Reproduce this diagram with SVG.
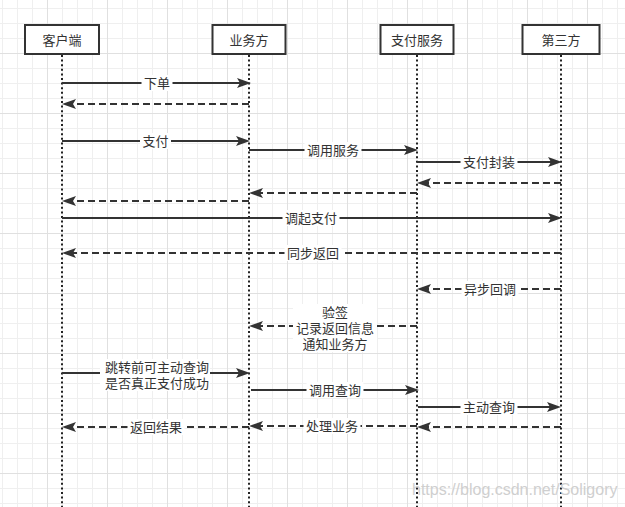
<svg xmlns="http://www.w3.org/2000/svg" width="625" height="507" viewBox="0 0 625 507">
<style>
text{font-family:"Liberation Sans","Noto Sans CJK SC",sans-serif;font-size:13px;fill:#333}
.node rect{fill:#fff;stroke:#333;stroke-width:2}
.node text{text-anchor:middle;dominant-baseline:central}
.life{stroke:#222;stroke-width:2;stroke-dasharray:2 2.6;fill:none}
.msg{stroke:#333;stroke-width:2;fill:none;marker-end:url(#ah)}
.ret{stroke-dasharray:7 4}
.lbg{fill:#fff}
.lbl{text-anchor:middle;dominant-baseline:central}
.wm{font-family:"Liberation Sans",sans-serif;font-size:16px;fill:#cfcfcf}
</style>
<defs>
<pattern id="gm" x="2" y="8" width="15" height="15" patternUnits="userSpaceOnUse"><path d="M0.5 0V15M0 0.5H15" stroke="#efefef" stroke-width="1" fill="none"/></pattern>
<pattern id="gM" x="47" y="53" width="60" height="60" patternUnits="userSpaceOnUse"><path d="M0.5 0V60M0 0.5H60" stroke="#e0e0e0" stroke-width="1" fill="none"/></pattern>
<marker id="ah" viewBox="0 0 14 10" markerWidth="14" markerHeight="10" refX="3" refY="5" orient="auto" markerUnits="userSpaceOnUse"><path d="M0,0 L14,5 L0,10 L3,5z" fill="#333"/></marker>
</defs>
<rect width="625" height="507" fill="#fff"/>
<rect width="625" height="507" fill="url(#gm)"/>
<rect width="625" height="507" fill="url(#gM)"/>

<g id="lifelines">
<path class="life" d="M62 55V507"/>
<path class="life" d="M249 55V507"/>
<path class="life" d="M417 55V507"/>
<path class="life" d="M561 55V507"/>
</g>

<g id="node-client" class="node"><rect x="25" y="25" width="74" height="29"/><text x="62" y="40">客户端</text></g>
<g id="node-business" class="node"><rect x="212.5" y="25" width="73" height="29"/><text x="249" y="40">业务方</text></g>
<g id="node-payservice" class="node"><rect x="380.5" y="25" width="73" height="29"/><text x="417" y="40">支付服务</text></g>
<g id="node-thirdparty" class="node"><rect x="522.5" y="25" width="77" height="29"/><text x="561" y="40">第三方</text></g>

<g id="connectors">
<path class="msg" d="M62 83H240"/>
<path class="msg ret" d="M249 104H73"/>
<path class="msg" d="M62 141H239"/>
<path class="msg" d="M249 150H407"/>
<path class="msg" d="M417 162H551"/>
<path class="msg ret" d="M561 183H428"/>
<path class="msg ret" d="M417 193H260"/>
<path class="msg ret" d="M249 201H73"/>
<path class="msg" d="M62 218H551"/>
<path class="msg ret" d="M561 253H73"/>
<path class="msg ret" d="M561 289H428"/>
<path class="msg ret" d="M417 326H260"/>
<path class="msg" d="M62 373H239"/>
<path class="msg" d="M251 390H408"/>
<path class="msg" d="M418 407H550"/>
<path class="msg ret" d="M561 427H428"/>
<path class="msg ret" d="M417 426H260"/>
<path class="msg ret" d="M249 427H73"/>
</g>

<g id="labels">
<rect class="lbg" x="141.5" y="75" width="31" height="16"/><text class="lbl" x="157" y="83">下单</text>
<rect class="lbg" x="140" y="133" width="31" height="16"/><text class="lbl" x="155.5" y="141">支付</text>
<rect class="lbg" x="304.5" y="142" width="57" height="16"/><text class="lbl" x="333" y="150">调用服务</text>
<rect class="lbg" x="460.5" y="154" width="57" height="16"/><text class="lbl" x="489" y="162">支付封装</text>
<rect class="lbg" x="282.5" y="210" width="57" height="16"/><text class="lbl" x="311" y="218">调起支付</text>
<rect class="lbg" x="284.5" y="245" width="57" height="16"/><text class="lbl" x="313" y="253">同步返回</text>
<rect class="lbg" x="461.5" y="281" width="57" height="16"/><text class="lbl" x="490" y="289">异步回调</text>
<rect class="lbg" x="293" y="304" width="84" height="48"/>
<text class="lbl" x="335" y="312">验签</text>
<text class="lbl" x="335" y="328">记录返回信息</text>
<text class="lbl" x="335" y="344">通知业务方</text>
<rect class="lbg" x="100" y="359" width="110" height="32"/>
<text class="lbl" x="157" y="367">跳转前可主动查询</text>
<text class="lbl" x="157" y="383">是否真正支付成功</text>
<rect class="lbg" x="306.5" y="382" width="57" height="16"/><text class="lbl" x="335" y="390">调用查询</text>
<rect class="lbg" x="460.5" y="399" width="57" height="16"/><text class="lbl" x="489" y="407">主动查询</text>
<rect class="lbg" x="303.5" y="418" width="57" height="16"/><text class="lbl" x="332" y="426">处理业务</text>
<rect class="lbg" x="127.5" y="419" width="57" height="16"/><text class="lbl" x="156" y="427">返回结果</text>
</g>

<text class="wm" x="412" y="495">https://blog.csdn.net/Soligory</text>
</svg>
